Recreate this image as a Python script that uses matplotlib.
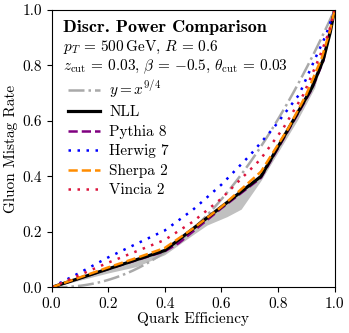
import numpy as np
import matplotlib
matplotlib.use("Agg")
import matplotlib.pyplot as plt

# ROC curves (quark efficiency, gluon mistag rate)
nll_x = [0.0, 0.4, 0.74, 0.87, 0.92, 0.96, 0.985, 1.0]
nll_y = [0.0, 0.133, 0.40, 0.63, 0.72, 0.82, 0.92, 1.0]

band_x = [0.0, 0.2, 0.3, 0.4, 0.5, 0.55, 0.62, 0.67, 0.74, 0.87, 0.93, 1.0]
band_lo = [0.0, 0.052, 0.075, 0.118, 0.19, 0.225, 0.255, 0.282, 0.385, 0.605, 0.72, 1.0]
band_hi = [0.0, 0.068, 0.102, 0.138, 0.215, 0.256, 0.31, 0.35, 0.405, 0.635, 0.74, 1.0]

pythia_x = [0.0, 0.2, 0.4, 0.45, 0.6, 0.74, 0.87, 0.92, 0.96, 1.0]
pythia_y = [0.0, 0.066, 0.13, 0.16, 0.285, 0.395, 0.625, 0.715, 0.815, 1.0]

herwig_x = [0.0, 0.1, 0.2, 0.3, 0.4, 0.5, 0.6, 0.7, 0.784, 0.875, 0.933, 0.97, 1.0]
herwig_y = [0.0, 0.053, 0.108, 0.157, 0.205, 0.28, 0.37, 0.475, 0.574, 0.695, 0.828, 0.91, 1.0]

sherpa_x = [0.0, 0.1, 0.2, 0.3, 0.4, 0.5, 0.6, 0.74, 0.837, 0.90, 0.955, 0.985, 1.0]
sherpa_y = [0.0, 0.036, 0.072, 0.106, 0.142, 0.212, 0.29, 0.417, 0.574, 0.695, 0.828, 0.93, 1.0]

vincia_x = [0.0, 0.1, 0.2, 0.3, 0.4, 0.5, 0.6, 0.737, 0.819, 0.89, 0.946, 0.98, 1.0]
vincia_y = [0.0, 0.045, 0.089, 0.13, 0.171, 0.237, 0.32, 0.46, 0.574, 0.695, 0.828, 0.92, 1.0]

ticks = [0.0, 0.2, 0.4, 0.6, 0.8, 1.0]

plt.rcParams['font.family'] = 'serif'
plt.rcParams['font.serif'] = ['cmr10', 'DejaVu Serif']
plt.rcParams['mathtext.fontset'] = 'cm'
plt.rcParams['axes.formatter.use_mathtext'] = True
plt.rcParams['font.size'] = 11

fig = plt.figure(figsize=(3.49, 3.33), dpi=100)
ax = fig.add_axes([0.1476, 0.137, 0.8109, 0.833])

# reference curve y = x^{9/4}
xx = np.linspace(0, 1, 200)
ax.plot(xx, xx ** 2.25, color='darkgray', lw=1.8, ls='-.', label=r'$y = x^{9/4}$')

ax.fill_between(band_x, band_lo, band_hi, color='silver', lw=0)
ax.plot(pythia_x, pythia_y, color='purple', lw=1.8, ls='--', label='Pythia 8')
ax.plot(nll_x, nll_y, color='black', lw=2.3, label='NLL')
ax.plot(herwig_x, herwig_y, color='blue', lw=1.8, ls=(0, (1, 2.6)), label='Herwig 7')
ax.plot(sherpa_x, sherpa_y, color='darkorange', lw=1.8, ls='--', label='Sherpa 2')
ax.plot(vincia_x, vincia_y, color='crimson', lw=1.8, ls=(0, (1, 2.6)), label='Vincia 2')

ax.set_xlim(0, 1)
ax.set_ylim(0, 1)
ax.set_xticks(ticks)
ax.set_yticks(ticks)
ax.set_xticklabels([f'{t:.1f}' for t in ticks])
ax.set_yticklabels([f'{t:.1f}' for t in ticks])
ax.tick_params(direction='out', length=3.5, width=0.8)
ax.set_xlabel('Quark Efficiency', labelpad=1)
ax.set_ylabel('Gluon Mistag Rate', labelpad=3)

ax.text(0.041, 0.922, 'Discr. Power Comparison', transform=ax.transAxes,
        fontfamily='cmb10', fontsize=13, va='baseline')
ax.text(0.041, 0.851, r'$p_T\,=\,500\,\mathrm{GeV},\,R\,=\,0.6$', transform=ax.transAxes,
        va='baseline')
ax.text(0.041, 0.781,
        r'$z_{\mathrm{cut}}\,=\,0.03,\,\beta\,=\,{-}0.5,\,\theta_{\mathrm{cut}}\,=\,0.03$',
        transform=ax.transAxes, va='baseline')

handles, labels = ax.get_legend_handles_labels()
order = ['$y = x^{9/4}$', 'NLL', 'Pythia 8', 'Herwig 7', 'Sherpa 2', 'Vincia 2']
hmap = dict(zip(labels, handles))
ax.legend([hmap[k] for k in order], order, loc='upper left',
          bbox_to_anchor=(0.058, 0.752), frameon=False, borderpad=0, borderaxespad=0,
          handlelength=2.1, handletextpad=0.6, labelspacing=0.36)

fig.savefig('out.png', dpi=100)
